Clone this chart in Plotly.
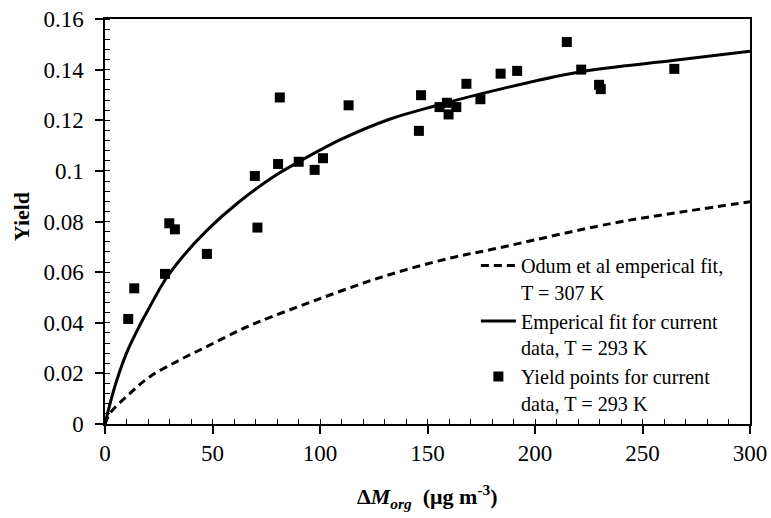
import plotly.graph_objects as go

# Data
pts_m = [10.8, 13.6, 27.9, 29.9, 32.5, 47.4, 69.7, 70.9, 80.5, 81.3, 90.1, 97.5,
         101.4, 113.3, 146.0, 147.0, 155.6, 159.0, 159.8, 163.4, 168.1, 174.6,
         184.0, 191.7, 214.8, 221.5, 229.8, 230.6, 264.8]
pts_y = [0.0415, 0.0536, 0.0593, 0.0793, 0.0769, 0.0672, 0.0980, 0.0776, 0.1027,
         0.1290, 0.1036, 0.1004, 0.1050, 0.1259, 0.1158, 0.1299, 0.1252, 0.1269,
         0.1223, 0.1252, 0.1344, 0.1283, 0.1384, 0.1395, 0.1509, 0.1400, 0.1340,
         0.1323, 0.1403]

fit_m = [0, 2.5, 5, 10, 15, 20, 28, 36, 48, 62, 78, 90, 110, 132, 155, 180, 220, 265, 300]
fit_y = [0, 0.0085, 0.016, 0.028, 0.037, 0.045, 0.057, 0.066, 0.077, 0.0875, 0.0975,
         0.1035, 0.1125, 0.1203, 0.126, 0.1315, 0.139, 0.1437, 0.1473]

odum_m = [0, 2.3, 11.6, 20.9, 34.8, 48.8, 62.7, 72, 98.3, 129.2, 160.2, 180, 236, 270, 300]
odum_y = [0, 0.0042, 0.0121, 0.0187, 0.0253, 0.0312, 0.0371, 0.0405, 0.049, 0.0582,
          0.0655, 0.0690, 0.0793, 0.0840, 0.0878]

x_ticks = [0, 50, 100, 150, 200, 250, 300]
y_ticks = [0, 0.02, 0.04, 0.06, 0.08, 0.1, 0.12, 0.14, 0.16]
y_labels = ["0", "0.02", "0.04", "0.06", "0.08", "0.1", "0.12", "0.14", "0.16"]

x_title = "<b>Δ<i>M</i><sub><i>org</i></sub>  (μg m<sup>-3</sup>)</b>"
y_title = "<b>Yield</b>"

FONT = "Liberation Serif"

fig = go.Figure()
fig.add_trace(go.Scatter(
    x=odum_m, y=odum_y, mode="lines", line_shape="spline",
    line=dict(color="black", width=3, dash="8px,5px"),
    name="Odum et al emperical fit,<br>T = 307 K"))
fig.add_trace(go.Scatter(
    x=fit_m, y=fit_y, mode="lines", line_shape="spline",
    line=dict(color="black", width=3),
    name="Emperical fit for current<br>data, T = 293 K"))
fig.add_trace(go.Scatter(
    x=pts_m, y=pts_y, mode="markers",
    marker=dict(symbol="square", size=10, color="black"),
    name="Yield points for current<br>data, T = 293 K"))

fig.update_layout(
    width=771, height=518,
    margin=dict(l=105, r=21, t=19, b=94),
    paper_bgcolor="white", plot_bgcolor="white",
    font=dict(family=FONT, color="black", size=23),
    showlegend=True,
    legend=dict(x=0.575, y=0.44, xanchor="left", yanchor="top",
                bgcolor="rgba(0,0,0,0)", font=dict(family=FONT, size=20.2, color="black"),
                valign="top", itemwidth=35, tracegroupgap=0),
    annotations=[
        dict(text=y_title, xref="paper", yref="paper", x=-0.13, y=0.511,
             textangle=-90, showarrow=False, xanchor="center", yanchor="middle",
             font=dict(family=FONT, size=22, color="black")),
        dict(text=x_title, xref="paper", yref="paper", x=0.5, y=-0.178,
             showarrow=False, xanchor="center", yanchor="middle",
             font=dict(family=FONT, size=22, color="black")),
    ],
)
fig.update_xaxes(
    range=[0, 300], tickvals=x_ticks, ticktext=[str(v) for v in x_ticks],
    showgrid=False, zeroline=False, showline=True, linecolor="black", linewidth=1.5,
    mirror=True, ticks="outside", ticklen=8, tickwidth=1.5, tickcolor="black",
    minor=dict(ticks="inside", ticklen=5, dtick=10, tickcolor="black", tickwidth=1, showgrid=False),
    tickfont=dict(family=FONT, size=23), automargin=False, ticklabeloverflow="allow",
)
fig.update_yaxes(
    range=[0, 0.16], tickvals=y_ticks, ticktext=y_labels,
    showgrid=False, zeroline=False, showline=True, linecolor="black", linewidth=1.5,
    mirror=True, ticks="outside", ticklen=8, tickwidth=1.5, tickcolor="black",
    minor=dict(ticks="inside", ticklen=5, dtick=0.004, tickcolor="black", tickwidth=1, showgrid=False),
    tickfont=dict(family=FONT, size=23), automargin=False, ticklabelstandoff=7,
    ticklabeloverflow="allow",
)

# remove the default 8px page margin so the figure sits at the window's corner
fig.write_html("out.html", config={"displayModeBar": False},
               post_script="document.body.style.margin='0';")
